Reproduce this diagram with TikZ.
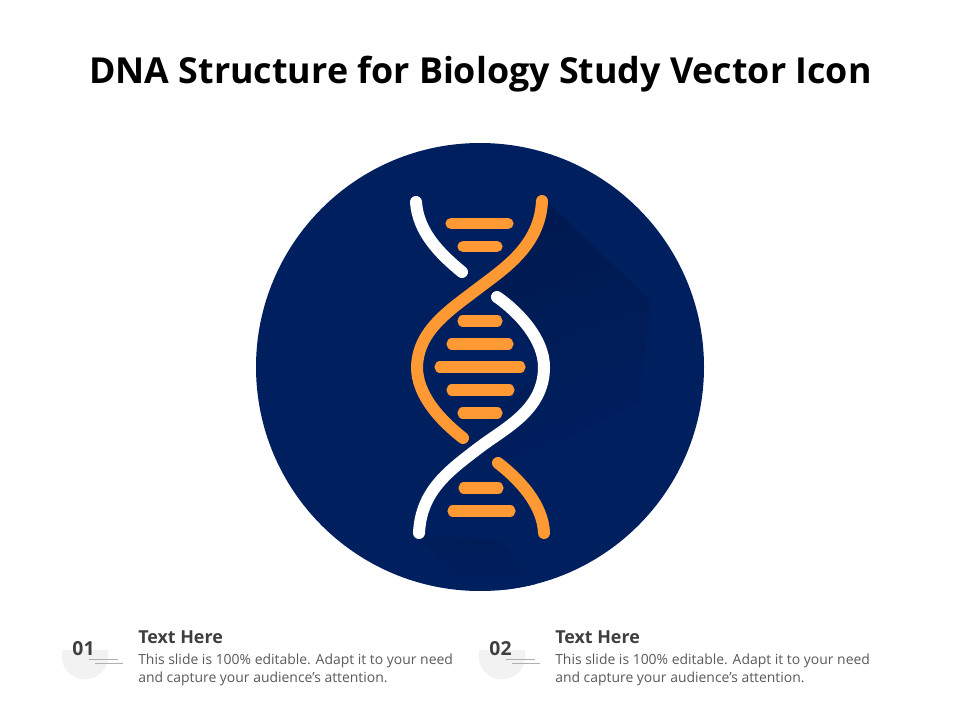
\documentclass[tikz,border=0pt]{standalone}
\usepackage{fontspec}
\setmainfont{Open Sans}
\usetikzlibrary{positioning}
\definecolor{navy}{HTML}{001F5F}
\definecolor{navydark}{HTML}{001A50}
\definecolor{strandorange}{HTML}{FF9933}
\definecolor{headgray}{HTML}{3F3F3F}
\definecolor{bodygray}{HTML}{595959}
\definecolor{discgray}{HTML}{F2F2F2}
\definecolor{tickgray}{HTML}{B0B0B0}

\begin{document}
\begin{tikzpicture} [x=0.75pt, y=-0.75pt,
			node distance = 0pt,
			rung/.style={line width=8.4pt, line cap=round, strandorange},
			strand/.style={line width=9pt, line cap=round},
			number/.style={font=\bfseries\fontsize{14.5}{16}\selectfont, text=headgray, inner sep=0pt},
			heading/.style={font=\bfseries\fontsize{13.4}{15}\selectfont, text=headgray, inner sep=0pt, anchor=west},
			blurb/.style={font=\fontsize{10.45}{13.5}\selectfont, text=bodygray, inner sep=0pt, align=left, below right=7pt and 0pt of #1.south west, anchor=north west},
			tick/.style={tickgray, line width=0.5pt},
		]
		\useasboundingbox (0,0) rectangle (960,720);

		% Title
		\node (title) [font=\bfseries\fontsize{26.85}{32}\selectfont, inner sep=0pt] at (480.5,74) {DNA Structure for Biology Study Vector Icon};

		% Disc and long shadow
		\fill [navy] (480,367) circle (224);
		\begin{scope}
			\clip (480,367) circle (224);
			\shade [left color=navydark, middle color=navydark!35!navy, right color=navy, shading angle=20] (545,200) -- (650,300) -- (640,400) -- (500,470) -- (470,440) -- (545,367) -- (497,297) -- (480,290) -- (530,250) -- cycle;
			\shade [top color=navydark!50!navy, bottom color=navy] (418,535) -- (470,590) -- (540,590) -- (500,540) -- cycle;
		\end{scope}

		% Rungs
		\draw [rung] (451,223.5) -- (508,223.5);
		\draw [rung] (463,246.5) -- (497,246.5);
		\draw [rung] (463,321) -- (497,321);
		\draw [rung] (452,344) -- (508,344);
		\draw [rung] (440,367) -- (520,367);
		\draw [rung] (452,390) -- (509,390);
		\draw [rung] (463,413) -- (497,413);
		\draw [rung] (464,488) -- (498,488);
		\draw [rung] (453,511) -- (510,511);

		% Strands
		\draw [strand, white] (416,202) .. controls (418,232) and (440,254) .. (462,272);
		\draw [strand, strandorange] (542,201) .. controls (540,245) and (505,268) .. (480,287) .. controls (450,310) and (418,330) .. (417,367) .. controls (417,395) and (440,420) .. (463,438);
		\draw [strand, white] (497,297) .. controls (520,313) and (544,340) .. (544,367) .. controls (544,410) and (505,428) .. (480,447) .. controls (450,470) and (421,490) .. (419,533);
		\draw [strand, strandorange] (498,463) .. controls (520,480) and (543,505) .. (544,533);

		% Item 01
		\fill [discgray] (62.5,650) arc (195:-15:23.3) -- cycle;
		\node (num1) [number] at (83.5,649) {01};
		\coordinate (tick1a) at (89,659);
		\coordinate (tick1b) at (118,659);
		\coordinate (tick1c) at (95,663);
		\coordinate (tick1d) at (123,663);
		\draw [tick] (tick1a) -- (tick1b);
		\draw [tick] (tick1c) -- (tick1d);
		\node (head1) [heading] at (138,637.5) {Text Here};
		\node (body1) [blurb=head1] {This slide is 100\% editable. Adapt it to your need\\and capture your audience’s attention.};

		% Item 02
		\fill [discgray] (479.5,650) arc (195:-15:23.3) -- cycle;
		\node (num2) [number] at (500.5,649) {02};
		\coordinate (tick2a) at (506,659);
		\coordinate (tick2b) at (535,659);
		\coordinate (tick2c) at (512,663);
		\coordinate (tick2d) at (540,663);
		\draw [tick] (tick2a) -- (tick2b);
		\draw [tick] (tick2c) -- (tick2d);
		\node (head2) [heading] at (555,637.5) {Text Here};
		\node (body2) [blurb=head2] {This slide is 100\% editable. Adapt it to your need\\and capture your audience’s attention.};
	\end{tikzpicture}
\end{document}
